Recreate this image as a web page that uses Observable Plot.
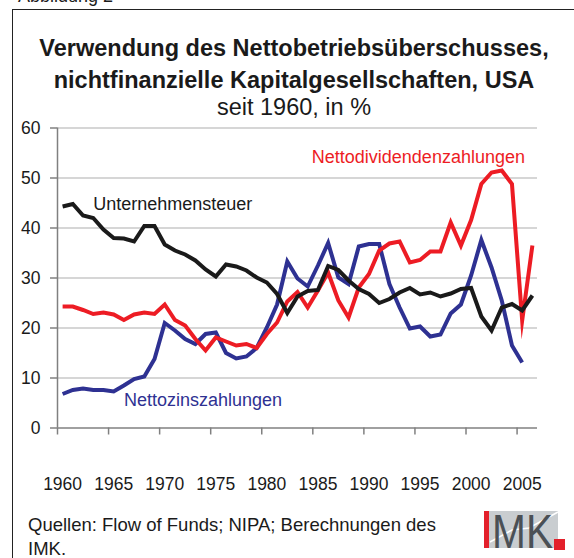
<!DOCTYPE html>
<html>
<head>
<meta charset="utf-8">
<script src="https://cdn.jsdelivr.net/npm/d3@7"></script>
<script src="https://cdn.jsdelivr.net/npm/@observablehq/plot@0.6"></script>
<style>
  html, body { margin: 0; padding: 0; background: #fff; }
  body { width: 574px; height: 558px; overflow: hidden; position: relative;
         font-family: "Liberation Sans", Arial, Helvetica, sans-serif; color: #1a1a1a; }
  #frame { position: absolute; left: 12px; top: 9px; width: 600px; height: 620px;
           border-left: 1px solid #222; border-top: 1px solid #222; }
  .abb { position: absolute; left: 18px; top: -13px; font-size: 18px; line-height: 18px; white-space: nowrap; }
  .tl { position: absolute; left: 12px; width: 564px; text-align: center; white-space: nowrap; }
  .t1 { font-weight: bold; font-size: 23.5px; line-height: 23.5px; }
  .t3 { font-size: 23.5px; line-height: 23.5px; }
  .cap { position: absolute; left: 28px; font-size: 18.5px; line-height: 18.5px; white-space: nowrap; }
  #chart { position: absolute; left: 0; top: 0; }
  #logo { position: absolute; left: 484px; top: 501px; overflow: visible; }
</style>
</head>
<body>
<div class="abb">Abbildung 2</div>
<div id="frame"></div>
<div class="tl t1" style="top:37px">Verwendung des Nettobetriebsüberschusses,</div>
<div class="tl t1" style="top:69px">nichtfinanzielle Kapitalgesellschaften, USA</div>
<div class="tl t3" style="top:96px">seit 1960, in %</div>
<div id="chart"></div>
<div class="cap" style="top:516px">Quellen: Flow of Funds; NIPA; Berechnungen des</div>
<div class="cap" style="top:539.5px">IMK.</div>
<svg id="logo" width="86" height="66" viewBox="0 0 86 66">
  <rect x="0" y="10" width="5" height="37" fill="#e3202b"/>
  <rect x="5" y="10" width="69" height="37" fill="#c9cdd0"/>
  <polyline points="6,41 28,29 45,27 74,11" fill="none" stroke="#fff" stroke-width="1.5"/>
  <text x="8" y="47" font-family="Liberation Sans, Arial, sans-serif" font-size="49" fill="#4b5055" textLength="61" lengthAdjust="spacingAndGlyphs">MK</text>
  <rect x="70" y="38" width="11" height="11" fill="#e3202b"/>
</svg>
<script>
// ---- data ----
const years = [1960,1961,1962,1963,1964,1965,1966,1967,1968,1969,
               1970,1971,1972,1973,1974,1975,1976,1977,1978,1979,
               1980,1981,1982,1983,1984,1985,1986,1987,1988,1989,
               1990,1991,1992,1993,1994,1995,1996,1997,1998,1999,
               2000,2001,2002,2003,2004,2005,2006];

const unternehmensteuer = [44.3,44.8,42.5,42.0,39.7,38.0,37.9,37.3,40.4,40.4,
                           36.7,35.5,34.7,33.5,31.7,30.3,32.7,32.3,31.5,30.1,
                           29.1,26.8,23.0,26.3,27.4,27.6,32.4,31.6,29.5,27.8,
                           26.8,25.0,25.8,27.1,28.0,26.7,27.1,26.3,26.9,27.8,
                           28.0,22.3,19.5,24.1,24.8,23.5,26.5];

const nettodividenden = [24.3,24.3,23.6,22.8,23.1,22.7,21.6,22.7,23.1,22.8,
                         24.7,21.6,20.5,17.8,15.5,18.1,17.3,16.5,16.8,16.0,
                         18.8,21.1,25.3,27.2,24.1,27.5,31.1,25.5,22.1,28.1,
                         30.8,35.5,36.9,37.3,33.1,33.6,35.3,35.3,41.1,36.5,
                         41.6,48.8,51.1,51.5,48.8,21.5,36.5];

const nettozinsen = [6.8,7.6,7.9,7.6,7.6,7.3,8.5,9.8,10.3,13.8,
                     21.0,19.5,17.8,16.8,18.8,19.1,15.0,13.9,14.3,16.0,
                     20.1,24.7,33.3,29.9,28.3,32.5,37.0,30.1,28.8,36.3,
                     36.8,36.8,28.8,24.1,19.9,20.3,18.3,18.7,22.9,24.7,
                     30.5,37.6,32.1,25.5,16.5,13.1];

const xTickLabels = [1960,1965,1970,1975,1980,1985,1990,1995,2000,2005];
const yTicks = [0,10,20,30,40,50,60];
const seriesNames = ["Unternehmensteuer", "Nettodividendenzahlungen", "Nettozinszahlungen"];
const colors = ["#1a1a1a", "#ed1c24", "#2e3192"];

// ---- tables built from the arrays ----
const toRows = arr => arr.map((v, i) => ({year: years[i], value: v}));
const steuerRows = toRows(unternehmensteuer);
const dividRows = toRows(nettodividenden);
const zinsRows = toRows(nettozinsen);
const tickBounds = xTickLabels.map(y => y - 0.5);   // Excel-style category boundaries
const xDomain = [years[0] - 0.5, years[years.length - 1] + 0.5];

const font = '"Liberation Sans", Arial, Helvetica, sans-serif';
const lineOpts = {x: "year", y: "value", strokeWidth: 4, strokeLinejoin: "miter", strokeMiterlimit: 20, strokeLinecap: "butt"};

const chart = Plot.plot({
  width: 574,
  height: 500,
  marginTop: 127.5,
  marginBottom: 72.5,
  marginLeft: 57,
  marginRight: 37,
  style: {fontFamily: font, color: "#1a1a1a", background: "transparent", overflow: "visible"},
  x: {domain: xDomain},
  y: {domain: [0, 60]},
  marks: [
    Plot.gridY(yTicks.slice(1), {stroke: "#d6d6d6", strokeOpacity: 1, strokeWidth: 2}),
    Plot.ruleY([0], {stroke: "#808080", strokeWidth: 1.5}),
    Plot.ruleX([xDomain[0]], {stroke: "#808080", strokeWidth: 1.5}),
    Plot.axisY(yTicks, {tickSize: 7, tickPadding: 10, stroke: "#808080", strokeWidth: 1.5, fill: "#1a1a1a", fontSize: 17.5, label: null, tickFormat: d => String(d)}),
    Plot.axisX(tickBounds, {tickSize: 7, stroke: "#808080", strokeWidth: 1.5, tickFormat: () => "", label: null}),
    Plot.axisX(xTickLabels, {tickSize: 0, tickPadding: 50, fontSize: 17.5, fill: "#1a1a1a", tickFormat: d => String(d), label: null}),
    Plot.line(zinsRows, {...lineOpts, stroke: colors[2]}),
    Plot.line(dividRows, {...lineOpts, stroke: colors[1]}),
    Plot.line(steuerRows, {...lineOpts, stroke: colors[0]}),
    Plot.text([seriesNames[0]], {x: 1963.0, y: 44.8, text: d => d, fill: colors[0], fontSize: 18, textAnchor: "start", lineAnchor: "middle"}),
    Plot.text([seriesNames[1]], {x: 1984.4, y: 54.1, text: d => d, fill: colors[1], fontSize: 18, textAnchor: "start", lineAnchor: "middle"}),
    Plot.text([seriesNames[2]], {x: 1966.0, y: 5.6, text: d => d, fill: colors[2], fontSize: 18, textAnchor: "start", lineAnchor: "middle"})
  ]
});
document.getElementById("chart").appendChild(chart);
</script>
</body>
</html>
